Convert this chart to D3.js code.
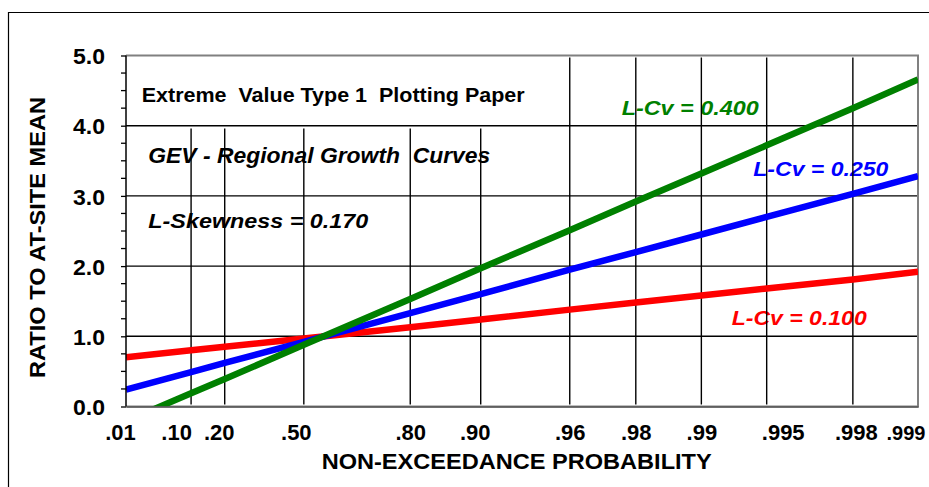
<!DOCTYPE html>
<html>
<head>
<meta charset="utf-8">
<script src="https://cdn.jsdelivr.net/npm/d3@7/dist/d3.min.js"></script>
<style>
  html, body { margin: 0; padding: 0; background: #fff; }
  svg { display: block; }
  text { font-family: "Liberation Sans", Arial, sans-serif; font-weight: bold; white-space: pre; }
</style>
</head>
<body>
<svg id="chart" width="929" height="487"></svg>
<script>
// ---- data ----
const probTicks  = [0.01, 0.10, 0.20, 0.50, 0.80, 0.90, 0.96, 0.98, 0.99, 0.995, 0.998, 0.999];
const tickLabels = [".01", ".10", ".20", ".50", ".80", ".90", ".96", ".98", ".99", ".995", ".998", ".999"];
const yTicks = [0, 1, 2, 3, 4, 5];
const yMinorTicks = [0.25, 0.5, 0.75, 1.25, 1.5, 1.75, 2.25, 2.5, 2.75, 3.25, 3.5, 3.75, 4.25, 4.5, 4.75];
const seriesNames = ["L-Cv = 0.100", "L-Cv = 0.250", "L-Cv = 0.400"];
// growth-curve values read at each probability tick
const redValues   = [0.70, 0.80, 0.85, 0.97, 1.13, 1.24, 1.38, 1.48, 1.58, 1.68, 1.81, 1.92];
const blueValues  = [0.24, 0.49, 0.62, 0.92, 1.33, 1.60, 1.95, 2.20, 2.45, 2.70, 3.03, 3.28];
const greenValues = [-0.21, 0.19, 0.39, 0.88, 1.53, 1.97, 2.51, 2.92, 3.32, 3.72, 4.25, 4.66];
const titleLines = ["Extreme  Value Type 1  Plotting Paper", "GEV - Regional Growth  Curves", "L-Skewness = 0.170"];
const xTitle = "NON-EXCEEDANCE PROBABILITY";
const yTitle = "RATIO TO AT-SITE MEAN";

// ---- layout ----
const svg = d3.select("#chart");
const L = 126, R = 918, T = 55.5, B = 406.5;
const gumbel = p => -Math.log(-Math.log(p));
const x = d3.scaleLinear().domain([gumbel(0.01), gumbel(0.999)]).range([L, R]);
const y = d3.scaleLinear().domain([0, 5]).range([B, T]);
const titleBandBottom = 3.96;
// small horizontal label nudges (style only), as in the original hand-placed labels
const labelNudge = [-6, -15, -6, -8, 0, -6, 0, 0, 0, 16, 3, 0];

// outer frame
svg.append("path").attr("d", "M8.5,487 V12.5 H929").attr("fill", "none").attr("stroke", "#000").attr("stroke-width", 1.2);

// clip
svg.append("defs").append("clipPath").attr("id", "plotclip")
  .append("rect").attr("x", L).attr("y", T).attr("width", R - L).attr("height", B - T);

// texts inside plot (under gridlines)
const txt = svg.append("g");
function addText(s, xx, yy, len, color, italic, size) {
  return txt.append("text").attr("x", xx).attr("y", yy).text(s)
    .attr("font-size", size || 21).attr("fill", color)
    .attr("font-style", italic ? "italic" : "normal")
    .attr("textLength", len).attr("lengthAdjust", "spacingAndGlyphs");
}
addText(titleLines[0], 141.7, 101.7, 383, "#000", false, 21);
addText(titleLines[1], 148.3, 163.3, 342, "#000", true, 22);
addText(titleLines[2], 148.3, 228.3, 220, "#000", true, 21);
addText(seriesNames[2], 621.7, 115, 137, "#008000", true, 21);
addText(seriesNames[1], 753.3, 175.7, 135, "#0000FF", true, 21);
addText(seriesNames[0], 731.7, 325, 135, "#FF0000", true, 21);

// gridlines
const grid = svg.append("g").attr("stroke", "#000").attr("stroke-width", 1.4);
grid.selectAll("line.h").data(yTicks.filter(v => v > 0 && v < 5)).enter().append("line")
  .attr("x1", L).attr("x2", R).attr("y1", d => y(d)).attr("y2", d => y(d));
grid.selectAll("line.v").data(probTicks.filter(p => p > 0.01 && p < 0.999)).enter().append("line")
  .attr("x1", d => x(gumbel(d))).attr("x2", d => x(gumbel(d)))
  .attr("y1", y(0.03))
  .attr("y2", d => d < 0.95 ? y(titleBandBottom) : y(4.97));

// gray border top/right/bottom
svg.append("path").attr("d", `M${L},${T} H${R} V${B} H${L}`).attr("fill", "none")
  .attr("stroke", "#808080").attr("stroke-width", 2);

// series lines
const line = d3.line().x((d, i) => x(gumbel(probTicks[i]))).y(d => y(d));
const lines = svg.append("g").attr("clip-path", "url(#plotclip)");
[[redValues, "#FF0000"], [blueValues, "#0000FF"], [greenValues, "#008000"]].forEach(([vals, c]) => {
  lines.append("path").datum(vals).attr("d", line).attr("fill", "none")
    .attr("stroke", c).attr("stroke-width", 6.5).attr("stroke-linecap", "butt");
});

// y axis
const yAxis = svg.append("g").attr("transform", `translate(${L},0)`);
yAxis.call(d3.axisLeft(y).tickValues(yTicks).tickSize(5).tickFormat(d3.format(".1f")));
yAxis.select(".domain").attr("stroke", "#000").attr("stroke-width", 1.5).attr("d", `M0,${T}V${B}`);
yAxis.selectAll(".tick line").attr("stroke", "#000").attr("stroke-width", 1.3);
yAxis.selectAll(".tick text").attr("font-size", 22).attr("font-family", "Liberation Sans, Arial, sans-serif")
  .attr("font-weight", "bold").attr("fill", "#000").attr("x", -21).attr("dy", "0.37em")
  .attr("textLength", 32).attr("lengthAdjust", "spacingAndGlyphs");
yAxis.selectAll("line.minor").data(yMinorTicks).enter().append("line").attr("class", "minor")
  .attr("x1", -5).attr("x2", 0).attr("y1", d => y(d)).attr("y2", d => y(d))
  .attr("stroke", "#000").attr("stroke-width", 1.3);

// x axis
const xAxis = svg.append("g").attr("transform", `translate(0,${B})`);
xAxis.call(d3.axisBottom(x).tickValues(probTicks.map(gumbel)).tickSize(0)
  .tickFormat((d, i) => tickLabels[i]));
xAxis.select(".domain").attr("stroke", "#555").attr("stroke-width", 1.5);
xAxis.selectAll(".tick text").attr("font-size", 22).attr("font-family", "Liberation Sans, Arial, sans-serif")
  .attr("font-weight", "bold").attr("fill", "#000").attr("y", 33).attr("dy", 0)
  .attr("dx", (d, i) => labelNudge[i]);
xAxis.selectAll(".tick text").filter((d, i) => i === probTicks.length - 1)
  .attr("text-anchor", "end").attr("dx", 7).attr("font-size", 20);

// axis titles
svg.append("text").attr("x", 321.7).attr("y", 469).text(xTitle).attr("font-size", 21.5)
  .attr("textLength", 390).attr("lengthAdjust", "spacingAndGlyphs").attr("fill", "#000");
svg.append("text").attr("transform", "translate(45,237.5) rotate(-90)").attr("text-anchor", "middle")
  .text(yTitle).attr("font-size", 21.5).attr("textLength", 281).attr("lengthAdjust", "spacingAndGlyphs").attr("fill", "#000");
</script>
</body>
</html>
